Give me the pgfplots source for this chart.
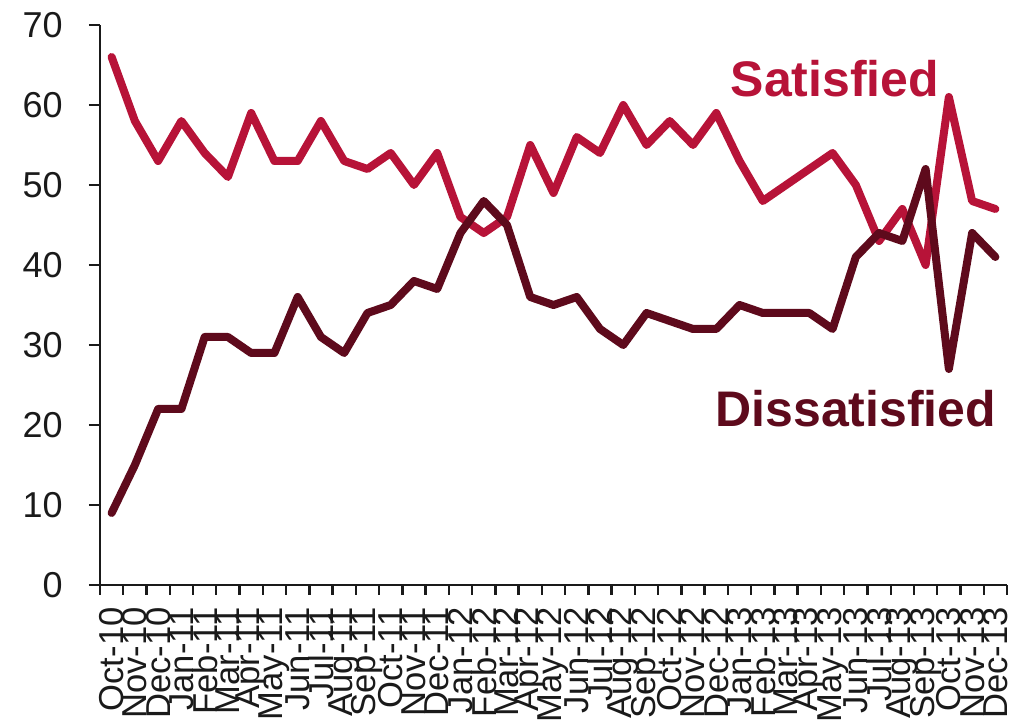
\documentclass[border=0pt]{standalone}
\usepackage{pgfplots}
\pgfplotsset{compat=1.18}
\usepackage{fontspec}
\setmainfont{Liberation Sans}
\usetikzlibrary{calc}
\definecolor{satc}{RGB}{183,19,56}
\definecolor{disc}{RGB}{94,10,28}
\definecolor{axc}{RGB}{26,26,26}
\begin{document}
\begin{tikzpicture}
\begin{axis}[
  scale only axis,
  width=453.5pt, height=280pt,
  xmin=-0.5, xmax=38.5, ymin=0, ymax=70,
  axis lines=left,
  axis line style={-, line width=1.2pt, color=axc},
  ytick={0,10,...,70},
  xtick={0,...,38},
  minor xtick={-0.5,0.5,...,38.5},
  major x tick style={draw=none},
  minor x tick style={line width=1.2pt, color=axc},
  y tick style={line width=1.2pt, color=axc},
  tick align=outside,
  major tick length=5.5pt,
  minor tick length=5pt,
  xticklabels={Oct-10,Nov-10,Dec-10,Jan-11,Feb-11,Mar-11,Apr-11,May-11,Jun-11,Jul-11,Aug-11,Sep-11,Oct-11,Nov-11,Dec-11,Jan-12,Feb-12,Mar-12,Apr-12,May-12,Jun-12,Jul-12,Aug-12,Sep-12,Oct-12,Nov-12,Dec-12,Jan-13,Feb-13,Mar-13,Apr-13,May-13,Jun-13,Jul-13,Aug-13,Sep-13,Oct-13,Nov-13,Dec-13},
  tick label style={font=\fontsize{18}{20}\selectfont, color=axc},
  x tick label style={rotate=90, anchor=east, inner sep=0pt, xshift=-5.5pt, font=\fontsize{17.3}{20}\selectfont},
  y tick label style={inner sep=0pt, xshift=-13pt},
  /pgf/number format/assume math mode=true,
  clip=false,
]
\coordinate (sw) at (rel axis cs:0,0);
\coordinate (ne) at (rel axis cs:1,1);
\addplot[color=satc, line width=4pt, line join=round, line cap=round] coordinates {
(0,66)(1,58)(2,53)(3,58)(4,54)(5,51)(6,59)(7,53)(8,53)(9,58)(10,53)(11,52)(12,54)(13,50)(14,54)(15,46)(16,44)(17,46)(18,55)(19,49)(20,56)(21,54)(22,60)(23,55)(24,58)(25,55)(26,59)(27,53)(28,48)(29,50)(30,52)(31,54)(32,50)(33,43)(34,47)(35,40)(36,61)(37,48)(38,47)
};
\addplot[color=disc, line width=4pt, line join=round, line cap=round] coordinates {
(0,9)(1,15)(2,22)(3,22)(4,31)(5,31)(6,29)(7,29)(8,36)(9,31)(10,29)(11,34)(12,35)(13,38)(14,37)(15,44)(16,48)(17,45)(18,36)(19,35)(20,36)(21,32)(22,30)(23,34)(24,33)(25,32)(26,32)(27,35)(28,34)(29,34)(30,34)(31,32)(32,41)(33,44)(34,43)(35,52)(36,27)(37,44)(38,41)
};
\node[anchor=base, color=satc, font=\fontsize{25}{30}\selectfont\bfseries, inner sep=0pt] at (axis cs:31.1,61.1) {Satisfied};
\node[anchor=base, color=disc, font=\fontsize{25}{30}\selectfont\bfseries, inner sep=0pt] at (axis cs:32.0,19.75) {Dissatisfied};
\end{axis}
\pgfresetboundingbox
\path ($(sw)+(-50pt,-67.5pt)$) rectangle ($(ne)+(7pt,12.5pt)$);
\end{tikzpicture}
\end{document}
